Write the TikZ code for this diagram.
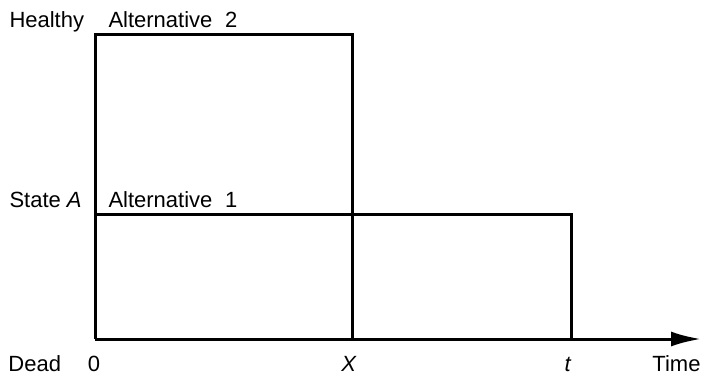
\documentclass[tikz,border=0pt]{standalone}
\usepackage{fontspec}
\setmainfont{Liberation Sans}
\usetikzlibrary{arrows.meta}
\begin{document}
\begin{tikzpicture}[x=1pt,y=-1pt,line width=3pt,
  font=\fontsize{22}{26}\selectfont,
  lbl/.style={inner sep=0pt,anchor=base west},
  tick/.style={inner sep=0pt,anchor=base}]
  \useasboundingbox (0,0) rectangle (704,378);
  % corners of the two alternatives
  \coordinate (O) at (95,339);
  \coordinate (H) at (95,34);
  \coordinate (HX) at (352,34);
  \coordinate (X) at (352,339);
  \coordinate (S) at (95,214);
  \coordinate (St) at (571,214);
  \coordinate (T) at (571,339);
  \coordinate (E) at (701,339);
  \draw[line join=miter] (X) -- (HX) -- (H) -- (O);
  \draw[line join=miter] (S) -- (St) -- (T);
  \draw[-{Latex[length=30pt,width=15pt]}] (O) -- (E);
  % state labels
  \node[lbl] (healthy) at (8,27) {Healthy};
  \node[lbl] (alt2) at (107,27) {Alternative\hspace{0.3em} 2};
  \node[lbl] (stateA) at (8,207) {State \textit{A}};
  \node[lbl] (alt1) at (107,207) {Alternative\hspace{0.3em} 1};
  \node[lbl] (dead) at (7,371) {Dead};
  % time axis
  \foreach \x/\n/\t in {94/zero/0, 349/xlab/\textit{X}, 568/tlab/\textit{t}} {
    \node[tick] (\n) at (\x,371) {\t};}
  \node[inner sep=0pt,anchor=base east] (time) at (702,371) {Time};
\end{tikzpicture}
\end{document}
